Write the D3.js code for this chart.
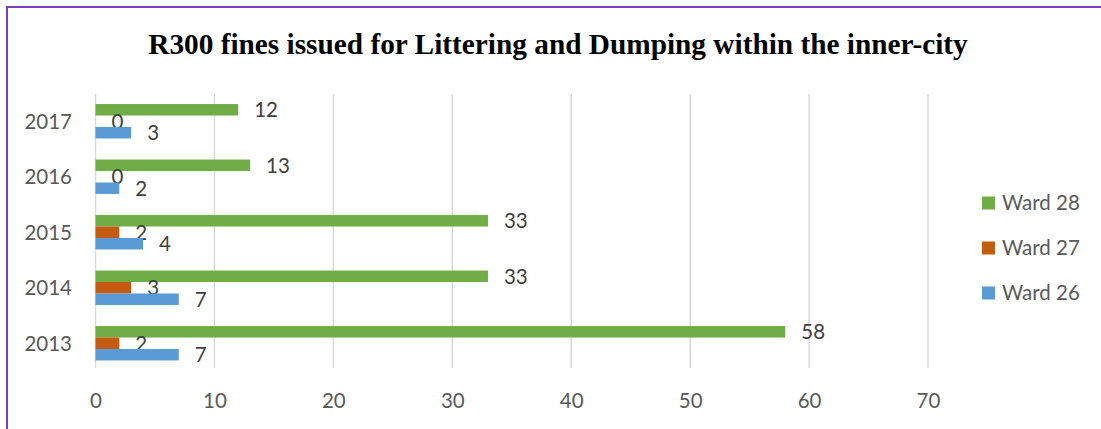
<!DOCTYPE html>
<html>
<head>
<meta charset="utf-8">
<script src="https://cdn.jsdelivr.net/npm/d3@7"></script>
<style>
  html, body { margin: 0; padding: 0; background: #fff; }
  svg { display: block; }
</style>
</head>
<body>
<svg id="chart" width="1101" height="429"></svg>
<script>
// Fines per year, by ward
const years = ["2013", "2014", "2015", "2016", "2017"];
const ward26 = [7, 7, 4, 2, 3];
const ward27 = [2, 3, 2, 0, 0];
const ward28 = [58, 33, 33, 13, 12];
const xTicks = [0, 10, 20, 30, 40, 50, 60, 70];
const seriesNames = ["Ward 28", "Ward 27", "Ward 26"];
const seriesColors = ["#70AD47", "#C55A11", "#5B9BD5"];
const seriesValues = [ward28, ward27, ward26];

const svg = d3.select("#chart");
const font = "Lato, 'Open Sans', sans-serif";
const fontSize = 20.5;
const textColor = "#595959";

// outer frame
svg.append("rect")
  .attr("x", 7).attr("y", 7)
  .attr("width", 1110).attr("height", 440)
  .attr("fill", "none")
  .attr("stroke", "#7b3fb8")
  .attr("stroke-width", 2);

// title
svg.append("text")
  .attr("x", 558).attr("y", 54)
  .attr("text-anchor", "middle")
  .attr("font-family", "'Liberation Serif', 'Times New Roman', serif")
  .attr("font-weight", "bold")
  .attr("font-size", 29.3)
  .attr("fill", "#000")
  .text("R300 fines issued for Littering and Dumping within the inner-city");

const x = d3.scaleLinear().domain([0, 70]).range([95.5, 928]);
const y = d3.scaleBand().domain(years.slice().reverse()).range([93.5, 371])
  .paddingInner(0.38).paddingOuter(0.19);
const ySub = d3.scaleBand().domain(seriesNames).range([0, y.bandwidth()]);

// vertical gridlines
svg.append("g")
  .selectAll("line")
  .data(xTicks)
  .join("line")
  .attr("x1", d => x(d)).attr("x2", d => x(d))
  .attr("y1", 94).attr("y2", 368)
  .attr("stroke", "#d9d9d9")
  .attr("stroke-width", 1.5);

// x axis labels
const xAxis = d3.axisBottom(x).tickValues(xTicks).tickSize(0).tickPadding(0);
const gx = svg.append("g").attr("transform", "translate(0,408)").call(xAxis);
gx.select(".domain").remove();
gx.selectAll("text")
  .attr("dy", 0)
  .attr("font-family", font)
  .attr("font-size", fontSize)
  .attr("fill", textColor);

// y axis labels
const yAxis = d3.axisLeft(y).tickSize(0).tickPadding(0);
const gy = svg.append("g").attr("transform", "translate(72,0)").call(yAxis);
gy.select(".domain").remove();
gy.selectAll("text")
  .attr("dy", "0.36em")
  .attr("font-family", font)
  .attr("font-size", fontSize)
  .attr("fill", textColor);

// bars and value labels
seriesNames.forEach((name, si) => {
  const vals = seriesValues[si];
  const g = svg.append("g");
  g.selectAll("rect")
    .data(years)
    .join("rect")
    .attr("x", x(0))
    .attr("y", (yr) => y(yr) + ySub(name))
    .attr("width", (yr, i) => x(vals[i]) - x(0))
    .attr("height", ySub.bandwidth())
    .attr("fill", seriesColors[si]);
  g.selectAll("text")
    .data(years)
    .join("text")
    .attr("x", (yr, i) => x(vals[i]) + 16)
    .attr("y", (yr) => y(yr) + ySub(name) + ySub.bandwidth() / 2)
    .attr("dy", "0.36em")
    .attr("font-family", font)
    .attr("font-size", fontSize)
    .attr("fill", "#404040")
    .text((yr, i) => vals[i]);
});

// legend
const legend = svg.append("g")
  .selectAll("g")
  .data(seriesNames)
  .join("g")
  .attr("transform", (d, i) => `translate(982,${203 + i * 45})`);
legend.append("rect")
  .attr("x", 0).attr("y", -6.5)
  .attr("width", 13).attr("height", 13)
  .attr("fill", (d, i) => seriesColors[i]);
legend.append("text")
  .attr("x", 20).attr("y", 0)
  .attr("dy", "0.36em")
  .attr("font-family", font)
  .attr("font-size", fontSize)
  .attr("fill", textColor)
  .text(d => d);
</script>
</body>
</html>
